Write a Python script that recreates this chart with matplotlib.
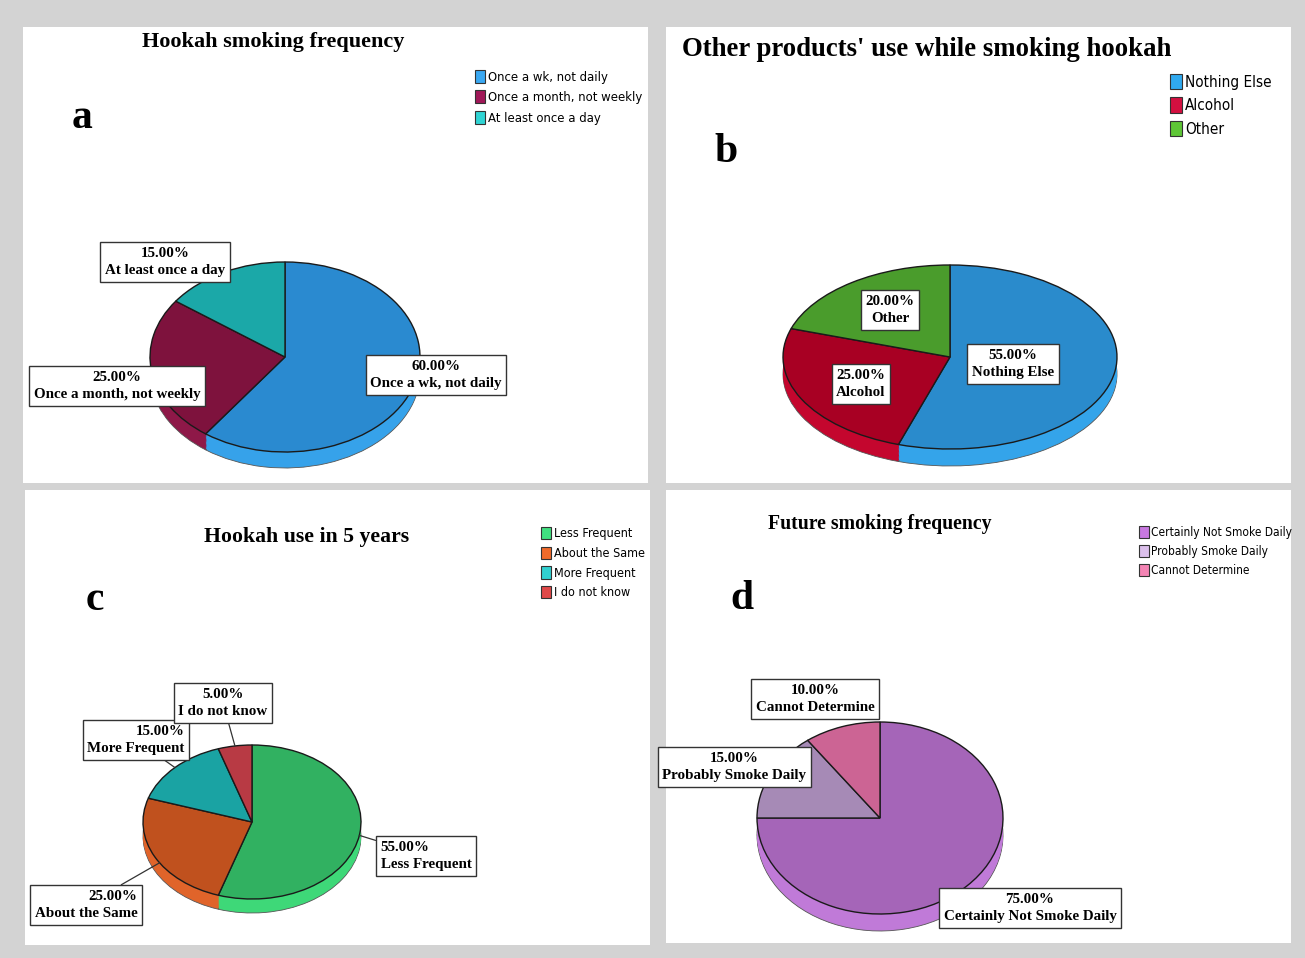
import numpy as np
import matplotlib.pyplot as plt
from matplotlib.patches import Rectangle, Patch

W, H = 1305, 958  # output size in pixels


# data for the four panels
a_labels = ['Once a wk, not daily', 'Once a month, not weekly', 'At least once a day']
a_values = [60, 25, 15]

b_labels = ['Nothing Else', 'Alcohol', 'Other']
b_values = [55, 25, 20]

c_labels = ['Less Frequent', 'About the Same', 'More Frequent', 'I do not know']
c_values = [55, 25, 15, 5]

d_labels = ['Certainly Not Smoke Daily', 'Probably Smoke Daily', 'Cannot Determine']
d_values = [75, 15, 10]


def fx(x):
	return x / W

def fy(y):
	return 1 - y / H


serif = 'Liberation Serif'

fig = plt.figure(figsize=(W / 100, H / 100), dpi=100)
fig.patch.set_facecolor('#d3d3d3')

# white panels
bg = fig.add_axes([0, 0, 1, 1], zorder=-1)
bg.set_xlim(0, W)
bg.set_ylim(H, 0)
bg.axis('off')
for x0, y0, x1, y1 in [(23, 27, 648, 483), (666, 27, 1291, 483),
                       (25, 490, 650, 945), (666, 490, 1291, 943)]:
	bg.add_patch(Rectangle((x0, y0), x1 - x0, y1 - y0, fc='white', ec='none'))


def pie3d(cx, cy, rx, ry, depth, values, top, side):
	ax = fig.add_axes([fx(cx - 1.3 * rx), fy(cy + 1.3 * ry), 2.6 * rx / W, 2.6 * ry / H], zorder=1)
	d = depth / ry
	offs = np.linspace(d, 0, 14)[:-1]
	for i, k in enumerate(offs):
		lw = 0.6 if i == 0 else 0
		ax.pie(values, colors=side, startangle=90, counterclock=False, center=(0, -k),
		       wedgeprops=dict(edgecolor='#555555', linewidth=lw))
	ax.pie(values, colors=top, startangle=90, counterclock=False,
	       wedgeprops=dict(edgecolor='#1a1a1a', linewidth=1.0))
	ax.set_aspect('auto')
	ax.set_xlim(-1.3, 1.3)
	ax.set_ylim(-1.3, 1.3)
	return ax


def label(ax, txt, x, y, ang=None, align='center'):
	box = dict(boxstyle='square,pad=0.3', fc='white', ec='#333333', lw=1)
	kw = {}
	if ang is not None:
		t = np.radians(ang)
		xy = (np.cos(t), np.sin(t))
		kw['arrowprops'] = dict(arrowstyle='-', color='#333333', lw=0.9, shrinkA=0, shrinkB=0)
	else:
		xy = (0, 0)
	ax.annotate(txt, xy=xy, xytext=(fx(x), fy(y)), textcoords='figure fraction',
	            ha='center', va='center', multialignment=align, fontsize=10.8,
	            fontfamily=serif, fontweight='bold', bbox=box, zorder=5,
	            annotation_clip=False, linespacing=1.45, **kw)


def legend(labels, colors, x, y, size):
	handles = [Patch(fc=c, ec='#333333', lw=0.8) for c in colors]
	fig.legend(handles, labels, loc='upper left', bbox_to_anchor=(fx(x), fy(y)),
	           frameon=False, prop=dict(family='DejaVu Sans', stretch='condensed', size=size),
	           handlelength=0.8, handleheight=1.15, handletextpad=0.2, labelspacing=0.5,
	           borderpad=0, borderaxespad=0)


def title(txt, x, y, size):
	fig.text(fx(x), fy(y), txt, ha='center', va='center', fontsize=size,
	         fontfamily=serif, fontweight='bold')


# panel a
ax = pie3d(285, 357, 135, 95, 16, a_values,
           ['#2a8ad0', '#7e123d', '#1ba8a8'], ['#36a2ea', '#8e1848', '#20bcbc'])
label(ax, '60.00%\n' + a_labels[0], 436, 375)
label(ax, '25.00%\n' + a_labels[1], 117, 386)
label(ax, '15.00%\n' + a_labels[2], 165, 262)
legend(a_labels, ['#3aa8f2', '#a01858', '#30d4d4'], 475, 70, 9.4)
title('Hookah smoking frequency', 273, 42, 16)
title('a', 82, 118, 30)

# panel b
ax = pie3d(950, 357, 167, 92, 17, b_values,
           ['#2a8bcc', '#a80023', '#4a9c2c'], ['#34a4ea', '#c4062e', '#58b834'])
label(ax, '55.00%\n' + b_labels[0], 1013, 364)
label(ax, '25.00%\n' + b_labels[1], 861, 384)
label(ax, '20.00%\n' + b_labels[2], 890, 310)
legend(b_labels, ['#30aaf0', '#d41040', '#5ec636'], 1170, 74, 11.0)
title("Other products' use while smoking hookah", 927, 50, 19.3)
title('b', 726, 152, 30)

# panel c
ax = pie3d(252, 822, 109, 77, 14, c_values,
           ['#31b161', '#c0511e', '#1aa3a3', '#b83a44'], ['#3ed878', '#e0642a', '#22bcbc', '#d04850'])
label(ax, '55.00%\n' + c_labels[0], 426, 856, ang=-10, align='left')
label(ax, '25.00%\n' + c_labels[1], 86, 905, ang=212, align='right')
label(ax, '15.00%\n' + c_labels[2], 136, 740, ang=135, align='right')
label(ax, '5.00%\n' + c_labels[3], 223, 703, ang=99)
legend(c_labels, ['#40e080', '#f06a2a', '#30d0d0', '#e04848'], 541, 527, 9.0)
title('Hookah use in 5 years', 307, 537, 15.7)
title('c', 95, 600, 30)

# panel d
ax = pie3d(880, 818, 123, 96, 17, d_values,
           ['#a565b8', '#a68ab6', '#cc6494'], ['#c07ad8', '#c0a0d8', '#e078a8'])
label(ax, '75.00%\n' + d_labels[0], 1030, 908)
label(ax, '15.00%\n' + d_labels[1], 734, 767)
label(ax, '10.00%\n' + d_labels[2], 815, 699)
legend(d_labels, ['#c878e0', '#dcc0ec', '#f484b4'], 1139, 526, 8.6)
title('Future smoking frequency', 880, 524, 14.2)
title('d', 742, 599, 30)

plt.savefig('out.png', dpi=100, facecolor=fig.get_facecolor())
